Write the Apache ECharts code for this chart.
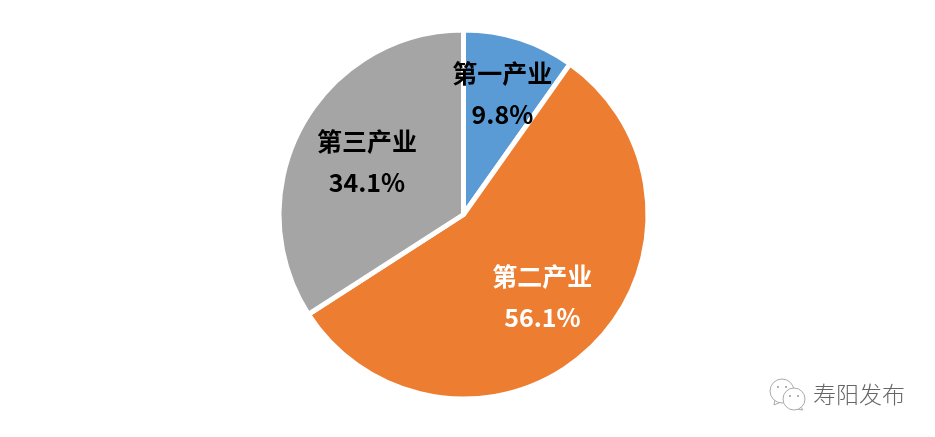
<!DOCTYPE html>
<html><head><meta charset="utf-8">
<style>html,body{margin:0;padding:0;background:#fff}#c{width:935px;height:437px}</style>
<script src="https://cdn.jsdelivr.net/npm/echarts@6/dist/echarts.min.js"></script>
</head><body><div id="c"></div>
<script>
const categories = ['第一产业','第二产业','第三产业'];
const values = [9.8,56.1,34.1];
const colors = ['#5B9BD5','#ED7D31','#A5A5A5'];
const labelColors = ['#000','#fff','#000'];
const labelOffsets = [[10,-30],[13,14],[-13,-7]];
const chart = echarts.init(document.getElementById('c'),null,{renderer:'canvas'});
const ring = (x,y,r)=>({type:'circle',shape:{cx:x,cy:y,r:r},style:{fill:'#fff',stroke:'#aaa',lineWidth:1}});
const dot = (x,y)=>({type:'circle',shape:{cx:x,cy:y,r:1},style:{fill:'#999'}});
chart.setOption({
  animation:false,
  graphic:[
    {type:'polyline',shape:{points:[[775,400],[774,405],[781,402]]},style:{fill:'#fff',stroke:'#aaa',lineWidth:1}},
    ring(782,391,12),
    dot(778,387),dot(786,387),
    {type:'polyline',shape:{points:[[800,406],[803,410],[797,409]]},style:{fill:'#fff',stroke:'#aaa',lineWidth:1}},
    ring(794,399,11),
    dot(790,396),dot(798,396),
    {type:'text',x:813,y:383,style:{text:'寿阳发布',fontSize:23,fontWeight:300,fill:'#666',fontFamily:'"Noto Sans CJK SC"'}}
  ],
  series:[{type:'pie',center:[463.5,214.5],radius:[0,184.5],startAngle:90,clockwise:true,
    itemStyle:{borderColor:'#fff',borderWidth:5},
    label:{position:'inside',formatter:p=>p.name+'\n'+p.value.toFixed(1)+'%',fontSize:25,fontWeight:'bold',lineHeight:41,fontFamily:'"Noto Sans CJK SC"'},
    labelLine:{show:false},
    data:categories.map((n,i)=>({name:n,value:values[i],itemStyle:{color:colors[i]},label:{color:labelColors[i],offset:labelOffsets[i]}}))
  }]
});
</script></body></html>
